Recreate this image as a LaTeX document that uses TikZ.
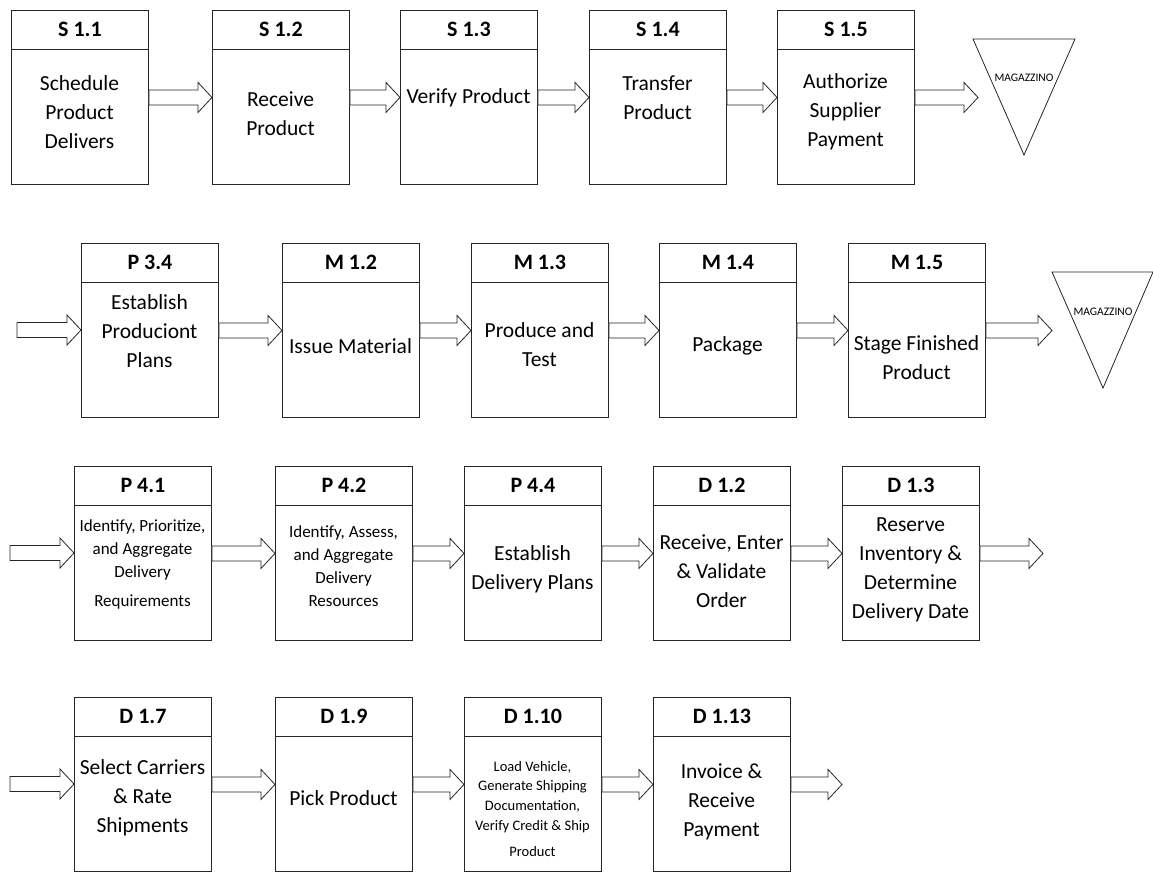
\documentclass[tikz,border=0pt]{standalone}
\usepackage{fontspec}
\setmainfont{Carlito}
\usetikzlibrary{calc}

\tikzset{
  stage/.style={draw=black!85, line width=0.9pt, minimum width=137pt, minimum height=174pt,
                inner sep=0pt, anchor=north west},
  divider/.style={draw=black!85, line width=0.9pt},
  stagehead/.style={font=\fontsize{22}{26}\selectfont\bfseries, inner sep=0pt},
  stagetext/.style={font=\fontsize{21.5}{29}\selectfont, align=center, inner sep=0pt},
  smalltext/.style={font=\fontsize{17}{23}\selectfont, align=center, inner sep=0pt},
  tinytext/.style={font=\fontsize{14.5}{19.7}\selectfont, align=center, inner sep=0pt},
  flow/.style={draw=black!85, line width=0.8pt, fill=white, line join=miter},
  store/.style={draw=black!85, line width=0.8pt},
  storetext/.style={font=\fontsize{11.5}{13}\selectfont, inner sep=0pt},
}

% process box: name, x, y (top-left), code shown in the header band
\newcommand\stagebox[4]{%
  \node[stage] (#1) at (#2,#3) {};
  \draw[divider] ($(#1.north west)+(0,39)$) -- ($(#1.north east)+(0,39)$);
  \node[stagehead] (#1-code) at ($(#1.north)+(0,19.5)$) {#4};
}

% hollow block arrow from the first point to the tip at the second one
\newcommand\flowarrow[2]{%
  \draw[flow] let \p1=(#1), \p2=(#2) in
    (\x1,\y1+7.5pt) -- (\x2-14pt,\y1+7.5pt) -- (\x2-14pt,\y1+15pt) -- (\x2,\y1)
    -- (\x2-14pt,\y1-15pt) -- (\x2-14pt,\y1-7.5pt) -- (\x1,\y1-7.5pt) -- cycle;
}

\begin{document}
\begin{tikzpicture}[x=1pt, y=-1pt]
\useasboundingbox (0,0) rectangle (1153,872);

% ---------- Source ----------
\stagebox{s11}{11}{10}{S 1.1}
\stagebox{s12}{212}{10}{S 1.2}
\stagebox{s13}{400}{10}{S 1.3}
\stagebox{s14}{589}{10}{S 1.4}
\stagebox{s15}{777}{10}{S 1.5}

\node[stagetext] (s11-t) at (79.5,112) {Schedule\\Product\\Delivers};
\node[stagetext] (s12-t) at (280.5,114) {Receive\\Product};
\node[stagetext] (s13-t) at (468.5,98) {Verify Product};
\node[stagetext] (s14-t) at (657.5,98) {Transfer\\Product};
\node[stagetext] (s15-t) at (845.5,112) {Authorize\\Supplier\\Payment};

\flowarrow{s11.east}{s12.west}
\flowarrow{s12.east}{s13.west}
\flowarrow{s13.east}{s14.west}
\flowarrow{s14.east}{s15.west}
\coordinate (out1) at (978,97);
\flowarrow{s15.east}{out1}

\draw[store] (973,39) -- (1075,39) -- (1024,155) -- cycle;
\node[storetext] (mag1) at (1024,78) {MAGAZZINO};

% ---------- Make ----------
\stagebox{p34}{81}{243}{P 3.4}
\stagebox{m12}{282}{243}{M 1.2}
\stagebox{m13}{471}{243}{M 1.3}
\stagebox{m14}{659}{243}{M 1.4}
\stagebox{m15}{848}{243}{M 1.5}

\node[stagetext] (p34-t) at (149.5,331) {Establish\\Produciont\\Plans};
\node[stagetext] (m12-t) at (350.5,346) {Issue Material};
\node[stagetext] (m13-t) at (539.5,345) {Produce and\\Test};
\node[stagetext] (m14-t) at (727.5,346) {Package};
\node[stagetext] (m15-t) at (916.5,357.5) {Stage Finished\\Product};

\coordinate (in2) at (17,330);
\flowarrow{in2}{p34.west}
\flowarrow{p34.east}{m12.west}
\flowarrow{m12.east}{m13.west}
\flowarrow{m13.east}{m14.west}
\flowarrow{m14.east}{m15.west}
\coordinate (out2) at (1052,330);
\flowarrow{m15.east}{out2}

\draw[store] (1052,272) -- (1153,272) -- (1103,388) -- cycle;
\node[storetext] (mag2) at (1103,312) {MAGAZZINO};

% ---------- Deliver planning ----------
\stagebox{p41}{74}{466}{P 4.1}
\stagebox{p42}{275}{466}{P 4.2}
\stagebox{p44}{464}{466}{P 4.4}
\stagebox{d12}{653}{466}{D 1.2}
\stagebox{d13}{842}{466}{D 1.3}

\node[smalltext] (p41-t) at (142.5,564.5) {Identify, Prioritize,\\and Aggregate\\Delivery\\[6pt]Requirements};
\node[smalltext] (p42-t) at (343.5,566) {Identify, Assess,\\and Aggregate\\Delivery\\Resources};
\node[stagetext] (p44-t) at (532.5,569) {Establish\\Delivery Plans};
\node[stagetext] (d12-t) at (721.5,571) {Receive, Enter\\\& Validate\\Order};
\node[stagetext] (d13-t) at (910.5,569.5) {Reserve\\Inventory \&\\Determine\\Delivery Date};

\coordinate (in3) at (10,553);
\flowarrow{in3}{p41.west}
\flowarrow{p41.east}{p42.west}
\flowarrow{p42.east}{p44.west}
\flowarrow{p44.east}{d12.west}
\flowarrow{d12.east}{d13.west}
\coordinate (out3) at (1043,553);
\flowarrow{d13.east}{out3}

% ---------- Deliver execution ----------
\stagebox{d17}{74}{697}{D 1.7}
\stagebox{d19}{275}{697}{D 1.9}
\stagebox{d110}{464}{697}{D 1.10}
\stagebox{d113}{653}{697}{D 1.13}

\node[stagetext] (d17-t) at (142.5,798) {Select Carriers\\\& Rate\\Shipments};
\node[stagetext] (d19-t) at (343.5,798) {Pick Product};
\node[tinytext] (d110-t) at (532.5,809) {Load Vehicle,\\Generate Shipping\\Documentation,\\Verify Credit \& Ship\\[7pt]Product};
\node[stagetext] (d113-t) at (721.5,802) {Invoice \&\\Receive\\Payment};

\coordinate (in4) at (10,784);
\flowarrow{in4}{d17.west}
\flowarrow{d17.east}{d19.west}
\flowarrow{d19.east}{d110.west}
\flowarrow{d110.east}{d113.west}
\coordinate (out4) at (842,784);
\flowarrow{d113.east}{out4}

\end{tikzpicture}
\end{document}
